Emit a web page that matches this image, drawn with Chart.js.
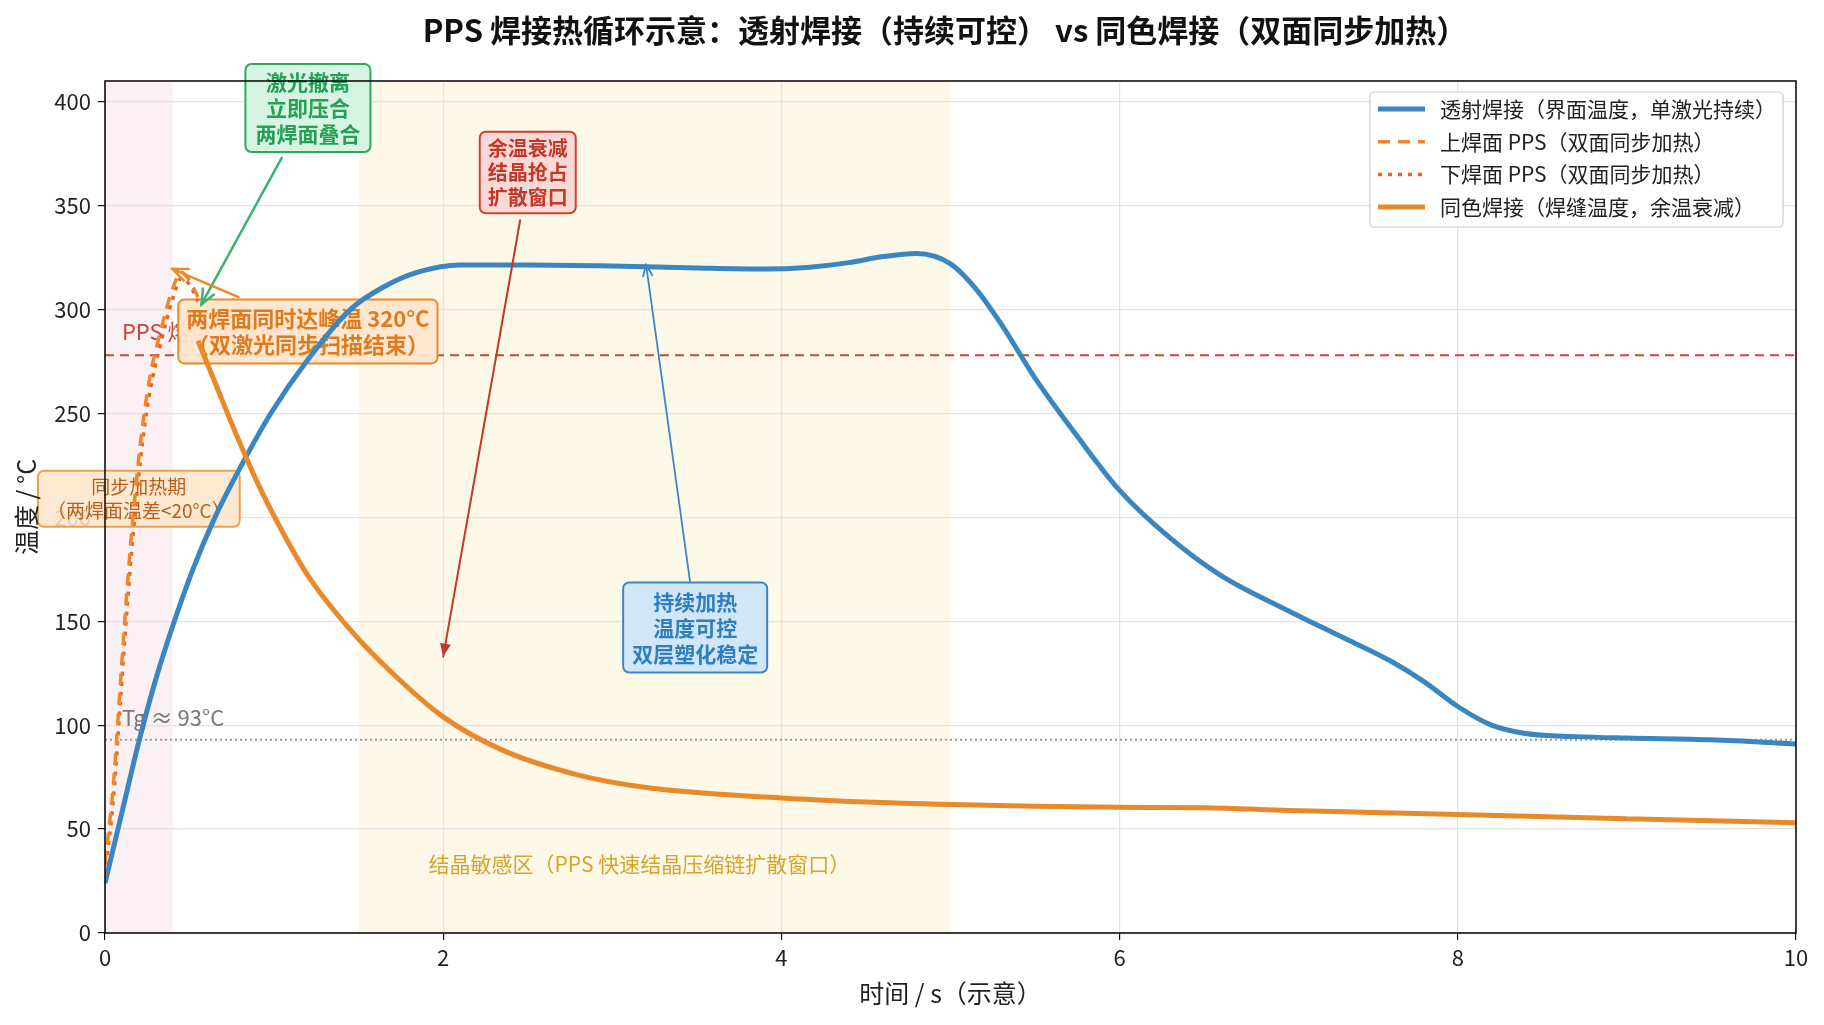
<!DOCTYPE html>
<html>
<head>
<meta charset="utf-8">
<script src="https://cdn.jsdelivr.net/npm/chart.js@4.4.1/dist/chart.umd.min.js"></script>
<style>
  html, body { margin: 0; padding: 0; background: #fff; }
  #wrap { width: 1824px; height: 1025px; }
</style>
</head>
<body>
<div id="wrap"><canvas id="weld-chart" width="1824" height="1025"></canvas></div>
<script>
// --- data ---
let x_ticks = [0, 2, 4, 6, 8, 10];
let y_ticks = [0, 50, 100, 150, 200, 250, 300, 350, 400];

let series_labels = [
    '透射焊接（界面温度，单激光持续）',
    '上焊面 PPS（双面同步加热）',
    '下焊面 PPS（双面同步加热）',
    '同色焊接（焊缝温度，余温衰减）'
];

// transmission welding, interface temperature
let trans_time = [0, 0.1, 0.2, 0.3, 0.41, 0.52, 0.65, 0.8, 0.98, 1.2, 1.45, 1.65, 1.85, 2.1, 2.5, 3.0, 3.5, 3.9, 4.15, 4.4, 4.6, 4.8, 5.0, 5.15, 5.3, 5.5, 5.75, 6.0, 6.3, 6.6, 7.0, 7.3, 7.6, 7.8, 8.0, 8.2, 8.4, 8.7, 9.0, 9.5, 10];
let trans_temp = [24, 58, 92, 122, 150, 175, 200, 224, 250, 276, 300, 311, 318, 321.5, 321.5, 321, 320, 319.5, 320.3, 322.6, 325.5, 327, 322, 310, 293, 267, 239, 213, 190, 172, 155, 143, 131, 121, 109, 100, 96, 94.5, 93.8, 93, 91];

// same-colour welding, both faces heated together
let sync_time = [0, 0.05, 0.09, 0.13, 0.17, 0.21, 0.26, 0.33, 0.4, 0.45, 0.5, 0.55];
let upper_temp = [33, 72, 119, 165, 204, 236, 265, 290, 310, 318, 314, 306];
let lower_temp = [28, 65, 110, 156, 195, 228, 258, 284, 305, 315, 312, 304];

// same-colour weld seam after pressing
let seam_time = [0.55, 0.65, 0.76, 0.9, 1.05, 1.2, 1.45, 1.7, 2.0, 2.35, 2.8, 3.2, 3.6, 4.0, 4.5, 5.0, 5.5, 6.0, 6.5, 7.0, 7.5, 8.0, 9.0, 10];
let seam_temp = [285, 265, 243, 217, 193, 172, 146, 125, 104, 88, 76, 70, 67, 65, 63, 61.8, 61, 60.5, 60.3, 59, 58, 57, 55, 53];

let MELT_TEMP = 278;
let TG_TEMP = 93;

let FONT = '"Noto Sans CJK SC", "Noto Sans", sans-serif';

let to_points = function(xs, ys) {
    return xs.map(function(x, i) { return {x: x, y: ys[i]}; });
};

let round_box = function(ctx, x, y, w, h, r) {
    ctx.beginPath();
    ctx.moveTo(x + r, y);
    ctx.arcTo(x + w, y, x + w, y + h, r);
    ctx.arcTo(x + w, y + h, x, y + h, r);
    ctx.arcTo(x, y + h, x, y, r);
    ctx.arcTo(x, y, x + w, y, r);
    ctx.closePath();
};

// text box centred on a data point
let draw_note = function(chart, note) {
    let ctx = chart.ctx;
    let cx = chart.scales.x.getPixelForValue(note.x);
    let cy = chart.scales.y.getPixelForValue(note.y);
    ctx.save();
    ctx.font = (note.bold ? 'bold ' : '') + note.size + 'px ' + FONT;
    let w = 0;
    note.lines.forEach(function(l) { w = Math.max(w, ctx.measureText(l).width); });
    let h = note.lines.length * note.lh;
    let bw = w + 2 * note.padx;
    let bh = h + 2 * note.pady;
    round_box(ctx, cx - bw / 2, cy - bh / 2, bw, bh, 6);
    ctx.fillStyle = note.fill;
    ctx.fill();
    ctx.lineWidth = 2;
    ctx.strokeStyle = note.border;
    ctx.stroke();
    ctx.fillStyle = note.color;
    ctx.textAlign = 'center';
    ctx.textBaseline = 'middle';
    note.lines.forEach(function(l, i) {
        ctx.fillText(l, cx, cy - h / 2 + note.lh * (i + 0.5));
    });
    ctx.restore();
};

let draw_arrow = function(chart, a) {
    let ctx = chart.ctx;
    let x0 = chart.scales.x.getPixelForValue(a.from[0]);
    let y0 = chart.scales.y.getPixelForValue(a.from[1]);
    let x1 = chart.scales.x.getPixelForValue(a.to[0]);
    let y1 = chart.scales.y.getPixelForValue(a.to[1]);
    let ang = Math.atan2(y1 - y0, x1 - x0);
    let hl = a.head;
    ctx.save();
    ctx.strokeStyle = a.color;
    ctx.fillStyle = a.color;
    ctx.lineWidth = a.width;
    ctx.lineCap = 'round';
    ctx.beginPath();
    ctx.moveTo(x0, y0);
    ctx.lineTo(x1, y1);
    ctx.stroke();
    ctx.beginPath();
    ctx.moveTo(x1 - hl * Math.cos(ang - 0.4), y1 - hl * Math.sin(ang - 0.4));
    ctx.lineTo(x1, y1);
    ctx.lineTo(x1 - hl * Math.cos(ang + 0.4), y1 - hl * Math.sin(ang + 0.4));
    if (a.filled) {
        ctx.closePath();
        ctx.fill();
    } else {
        ctx.stroke();
    }
    ctx.restore();
};

let notes = [
    {x: 1.2, y: 397, lines: ['激光撤离', '立即压合', '两焊面叠合'], bold: true, size: 21, lh: 26, padx: 10, pady: 5,
     fill: 'rgba(213, 243, 224, 0.95)', border: '#2eaa5e', color: '#25a055'},
    {x: 1.2, y: 289.5, lines: ['两焊面同时达峰温 320°C', '（双激光同步扫描结束）'], bold: true, size: 22, lh: 26, padx: 8, pady: 6,
     fill: 'rgba(253, 230, 204, 0.95)', border: '#e8892a', color: '#e07a1f'},
    {x: 2.5, y: 366, lines: ['余温衰减', '结晶抢占', '扩散窗口'], bold: true, size: 20, lh: 24.5, padx: 8, pady: 4,
     fill: 'rgba(249, 215, 212, 0.95)', border: '#c8443a', color: '#c0392b'},
    {x: 3.49, y: 147, lines: ['持续加热', '温度可控', '双层塑化稳定'], bold: true, size: 21, lh: 26, padx: 9, pady: 6,
     fill: 'rgba(207, 229, 247, 0.95)', border: '#3a87c8', color: '#2e7fc0'},
    {x: 0.2, y: 209, lines: ['同步加热期', '（两焊面温差<20°C）'], bold: false, size: 19, lh: 24, padx: 9, pady: 4,
     fill: 'rgba(253, 230, 204, 0.88)', border: '#eda050', color: '#b8601c'}
];

let arrows = [
    {from: [1.045, 373], to: [0.57, 302.5], color: '#3cb371', width: 2.5, head: 16, filled: false},
    {from: [0.79, 306], to: [0.4, 319.5], color: '#e8892a', width: 2.5, head: 16, filled: false},
    {from: [2.455, 343], to: [2.0, 133], color: '#c0392b', width: 2, head: 14, filled: true},
    {from: [3.46, 169], to: [3.2, 321.5], color: '#3a87c8', width: 1.8, head: 12, filled: false}
];

let legend_items = [
    {color: '#3a86c1', width: 5, dash: []},
    {color: '#f0882a', width: 3.5, dash: [12, 8]},
    {color: '#e8641e', width: 3.5, dash: [4, 6]},
    {color: '#e8892a', width: 5, dash: []}
];

let decor = {
    id: 'decor',
    beforeDraw: function(chart) {
        let ctx = chart.ctx;
        let a = chart.chartArea;
        let xs = chart.scales.x;
        ctx.save();
        ctx.fillStyle = '#ffffff';
        ctx.fillRect(0, 0, chart.width, chart.height);
        // heating span and crystallisation span
        ctx.fillStyle = 'rgba(244, 215, 224, 0.35)';
        ctx.fillRect(xs.getPixelForValue(0), a.top, xs.getPixelForValue(0.4) - xs.getPixelForValue(0), a.bottom - a.top);
        ctx.fillStyle = 'rgba(252, 240, 205, 0.45)';
        ctx.fillRect(xs.getPixelForValue(1.5), a.top, xs.getPixelForValue(5.0) - xs.getPixelForValue(1.5), a.bottom - a.top);
        ctx.restore();
    },
    beforeDatasetsDraw: function(chart) {
        let ctx = chart.ctx;
        let a = chart.chartArea;
        let xs = chart.scales.x;
        let ys = chart.scales.y;
        ctx.save();
        ctx.lineWidth = 2;
        ctx.strokeStyle = '#c8473c';
        ctx.setLineDash([9, 6]);
        let ym = ys.getPixelForValue(MELT_TEMP);
        ctx.beginPath(); ctx.moveTo(a.left, ym); ctx.lineTo(a.right, ym); ctx.stroke();
        ctx.strokeStyle = '#9a9a9a';
        ctx.setLineDash([2, 3]);
        let yt = ys.getPixelForValue(TG_TEMP);
        ctx.beginPath(); ctx.moveTo(a.left, yt); ctx.lineTo(a.right, yt); ctx.stroke();
        ctx.setLineDash([]);
        ctx.textBaseline = 'middle';
        ctx.textAlign = 'left';
        ctx.font = '22px ' + FONT;
        ctx.fillStyle = '#c8473c';
        ctx.fillText('PPS 熔点 ≈ 278°C', xs.getPixelForValue(0.1), ys.getPixelForValue(289.5));
        ctx.font = '22px ' + FONT;
        ctx.fillStyle = '#777777';
        ctx.fillText('Tg ≈ 93°C', xs.getPixelForValue(0.1), ys.getPixelForValue(103.7));
        ctx.font = '21px ' + FONT;
        ctx.fillStyle = '#d4a52a';
        ctx.textAlign = 'center';
        ctx.fillText('结晶敏感区（PPS 快速结晶压缩链扩散窗口）', xs.getPixelForValue(3.16), ys.getPixelForValue(33));
        ctx.restore();
        notes.forEach(function(n) { draw_note(chart, n); });
    },
    afterDatasetsDraw: function(chart) {
        let ctx = chart.ctx;
        let a = chart.chartArea;
        arrows.forEach(function(ar) { draw_arrow(chart, ar); });

        // axes frame
        ctx.save();
        ctx.strokeStyle = '#111';
        ctx.lineWidth = 1.6;
        ctx.strokeRect(a.left, a.top, a.right - a.left, a.bottom - a.top);

        // legend
        let lx = 1370, ly = 92, lw = 413, lh = 135;
        round_box(ctx, lx, ly, lw, lh, 4);
        ctx.fillStyle = 'rgba(255, 255, 255, 0.92)';
        ctx.fill();
        ctx.strokeStyle = '#cccccc';
        ctx.lineWidth = 1.2;
        ctx.stroke();
        ctx.font = '21px ' + FONT;
        ctx.textBaseline = 'middle';
        ctx.textAlign = 'left';
        legend_items.forEach(function(it, i) {
            let yy = 109 + i * 32.7;
            ctx.strokeStyle = it.color;
            ctx.lineWidth = it.width;
            ctx.setLineDash(it.dash);
            ctx.beginPath(); ctx.moveTo(1378, yy); ctx.lineTo(1425, yy); ctx.stroke();
            ctx.setLineDash([]);
            ctx.fillStyle = '#222';
            ctx.fillText(series_labels[i], 1440, yy);
        });

        // title and axis titles
        ctx.fillStyle = '#111';
        ctx.textAlign = 'center';
        ctx.font = 'bold 31px ' + FONT;
        ctx.fillText('PPS 焊接热循环示意：透射焊接（持续可控） vs 同色焊接（双面同步加热）', 945, 30);
        ctx.font = '25px ' + FONT;
        ctx.fillStyle = '#222';
        ctx.fillText('时间 / s（示意）', (a.left + a.right) / 2, 993);
        ctx.translate(26, (a.top + a.bottom) / 2);
        ctx.rotate(-Math.PI / 2);
        ctx.fillText('温度 / °C', 0, 0);
        ctx.restore();
    }
};

window.onload = function() {
    let chart_element = document.getElementById('weld-chart');
    new Chart(chart_element, {
        type: 'line',
        data: {
            datasets: [
                {label: series_labels[0], data: to_points(trans_time, trans_temp), borderColor: '#3a86c1', borderWidth: 5, order: 4},
                {label: series_labels[1], data: to_points(sync_time, upper_temp), borderColor: '#f0882a', borderWidth: 3.5, borderDash: [12, 8], order: 1},
                {label: series_labels[2], data: to_points(sync_time, lower_temp), borderColor: '#e8641e', borderWidth: 3.5, borderDash: [4, 6], order: 2},
                {label: series_labels[3], data: to_points(seam_time, seam_temp), borderColor: '#e8892a', borderWidth: 5, order: 3}
            ]
        },
        options: {
            responsive: false,
            animation: false,
            devicePixelRatio: 1,
            elements: {
                point: {radius: 0},
                line: {cubicInterpolationMode: 'monotone', borderCapStyle: 'butt', fill: false}
            },
            layout: {padding: {left: 0, right: 28, top: 81, bottom: 0}},
            plugins: {
                legend: {display: false},
                tooltip: {enabled: false},
                title: {display: false}
            },
            scales: {
                x: {
                    type: 'linear',
                    min: 0,
                    max: 10,
                    afterBuildTicks: function(axis) {
                        axis.ticks = x_ticks.map(function(v) { return {value: v}; });
                    },
                    afterFit: function(axis) { axis.height = 92; },
                    grid: {color: '#e2e2e2', lineWidth: 1.2, tickColor: '#111', tickLength: 7, drawTicks: true},
                    border: {display: false},
                    ticks: {color: '#222', font: {size: 22, family: FONT}, padding: 4, maxRotation: 0}
                },
                y: {
                    type: 'linear',
                    min: 0,
                    max: 410,
                    afterBuildTicks: function(axis) {
                        axis.ticks = y_ticks.map(function(v) { return {value: v}; });
                    },
                    afterFit: function(axis) { axis.width = 105; },
                    grid: {color: '#e2e2e2', lineWidth: 1.2, tickColor: '#111', tickLength: 7, drawTicks: true},
                    border: {display: false},
                    ticks: {color: '#222', font: {size: 22, family: FONT}, padding: 7}
                }
            }
        },
        plugins: [decor]
    });
};
</script>
</body>
</html>
